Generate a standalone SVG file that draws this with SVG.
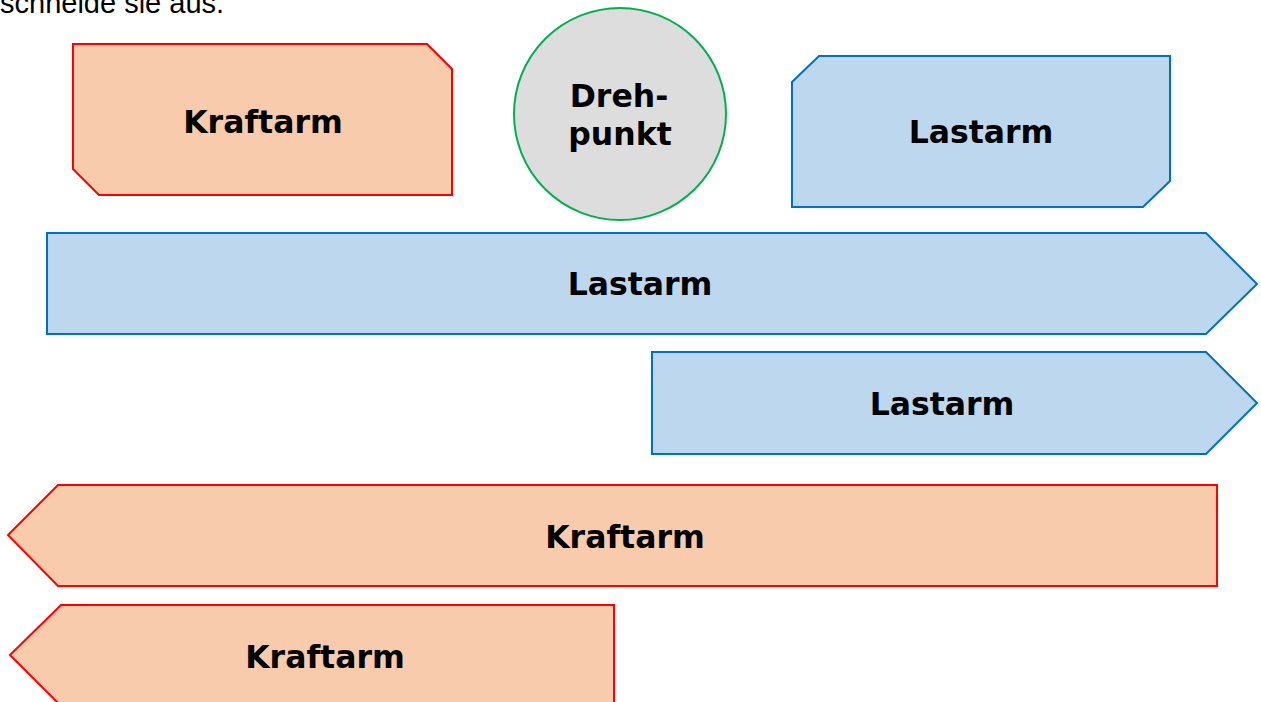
<svg xmlns="http://www.w3.org/2000/svg" width="1261" height="702" viewBox="0 0 1261 702">
<style>
.kraft{fill:#F8CBAD;stroke:#FF0000;stroke-width:2}
.last{fill:#BDD7EE;stroke:#0070C0;stroke-width:2}
.pivot{fill:#DDDDDD;stroke:#00B050;stroke-width:2}
.lbl{font-family:"DejaVu Sans",Verdana,sans-serif;font-weight:bold;font-size:31.5px;fill:#000;text-anchor:middle}
.head{font-family:"Liberation Sans",Arial,sans-serif;font-size:29px;fill:#000}
</style>
<rect width="1261" height="702" fill="#FFFFFF"/>
<text class="head" x="0" y="13">schneide sie aus.</text>
<g id="kraftarm1">
<polygon class="kraft" points="73,44 427,44 452,69 452,195 99,195 73,169"/>
<text class="lbl" x="263" y="133">Kraftarm</text>
</g>
<g id="drehpunkt">
<circle class="pivot" cx="620" cy="114" r="106"/>
<text class="lbl" x="619" y="107">Dreh-</text>
<text class="lbl" x="620" y="145">punkt</text>
</g>
<g id="lastarm1">
<polygon class="last" points="819,56 1170,56 1170,181 1143,207 792,207 792,82"/>
<text class="lbl" x="981" y="143">Lastarm</text>
</g>
<g id="lastarm2">
<polygon class="last" points="47,233 1206,233 1257,284 1206,334 47,334"/>
<text class="lbl" x="640" y="295">Lastarm</text>
</g>
<g id="lastarm3">
<polygon class="last" points="652,352 1206,352 1257,403 1206,454 652,454"/>
<text class="lbl" x="942" y="415">Lastarm</text>
</g>
<g id="kraftarm2">
<polygon class="kraft" points="58,485 1217,485 1217,586 58,586 8,535"/>
<text class="lbl" x="625" y="548">Kraftarm</text>
</g>
<g id="kraftarm3">
<polygon class="kraft" points="61,605 614,605 614,706 61,706 10,655"/>
<text class="lbl" x="325" y="668">Kraftarm</text>
</g>
<g id="connectors"></g>
</svg>
